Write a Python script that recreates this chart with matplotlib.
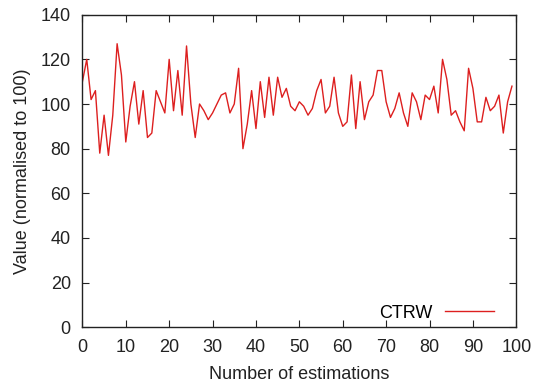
import matplotlib
matplotlib.use("Agg")
import matplotlib.pyplot as plt

x_values = list(range(100))
ctrw_values = [110, 120, 102, 106, 78, 95, 77, 95, 127, 113,
               83, 99, 110, 91, 106, 85, 87, 106, 101, 96,
               120, 97, 115, 95, 126, 100, 85, 100, 97, 93,
               96, 100, 104, 105, 96, 100, 116, 80, 91, 106,
               89, 110, 94, 112, 95, 112, 103, 107, 99, 97,
               101, 99, 95, 98, 106, 111, 96, 99, 112, 96,
               90, 92, 113, 89, 110, 93, 101, 104, 115, 115,
               101, 94, 98, 105, 96, 90, 105, 101, 93, 104,
               102, 108, 96, 120, 111, 95, 97, 92, 88, 116,
               107, 92, 92, 103, 97, 99, 104, 87, 101, 108]
x_ticks = list(range(0, 101, 10))
y_ticks = list(range(0, 141, 20))

plt.rcParams['font.family'] = ['Liberation Sans', 'DejaVu Sans']

fig = plt.figure(figsize=(5.34, 3.86), dpi=100)
left, right, top, bottom = 82.4, 516.3, 14.7, 327.3
ax = fig.add_axes([left/534, 1 - bottom/386, (right-left)/534, (bottom-top)/386])

ax.plot(x_values, ctrw_values, color='#dd1f1f', lw=1.0, label='CTRW')
ax.set_xlim(0, 100)
ax.set_ylim(0, 140)
ax.set_xticks(x_ticks)
ax.set_yticks(y_ticks)
ax.tick_params(direction='in', top=True, right=True, length=5, width=0.8,
               labelsize=13, colors='#222222', pad=8.3)
for s in ax.spines.values():
    s.set_linewidth(1.0)
    s.set_color('#222222')
ax.set_xlabel('Number of estimations', fontsize=13, color='#222222', labelpad=7)
ax.set_ylabel('Value (normalised to 100)', fontsize=13, color='#222222', labelpad=7)
ax.legend(loc='center right', bbox_to_anchor=(0.9486, 0.0457), frameon=False,
          markerfirst=False, fontsize=13, handlelength=2.74, handletextpad=0.69,
          borderpad=0, borderaxespad=0)

fig.savefig('out.png', dpi=100)
